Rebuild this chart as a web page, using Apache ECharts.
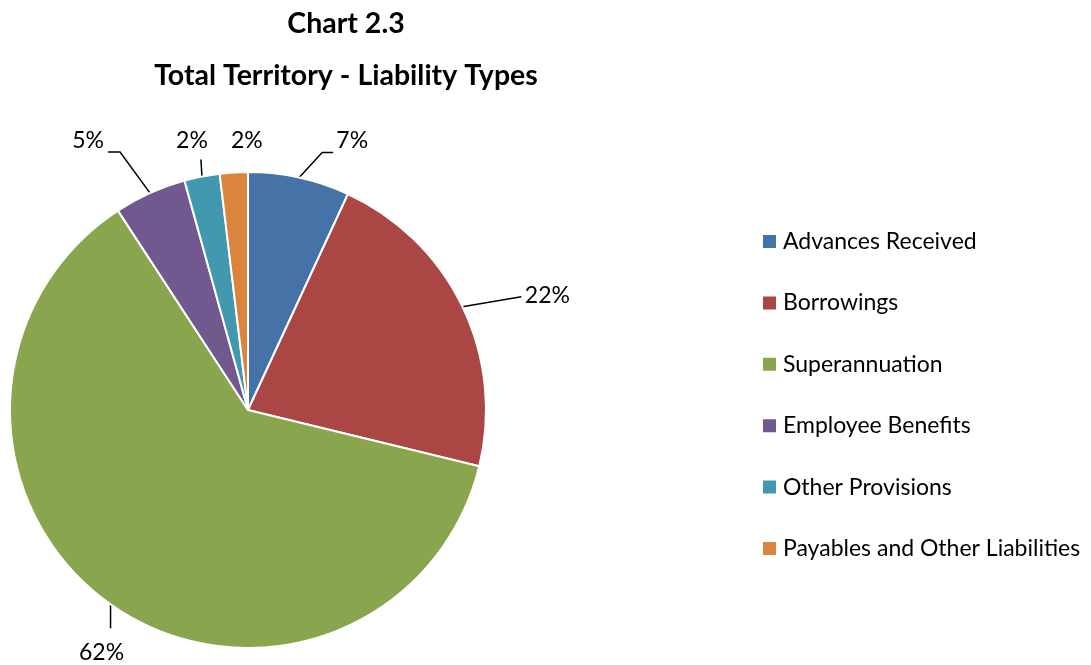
<!DOCTYPE html>
<html>
<head>
<meta charset="utf-8">
<script src="https://cdn.jsdelivr.net/npm/echarts@6/dist/echarts.min.js"></script>
<style>html,body{margin:0;padding:0;background:#fff}#c{width:1091px;height:665px}</style>
</head>
<body>
<div id="c"></div>
<script>
const categories = ['Advances Received','Borrowings','Superannuation','Employee Benefits','Other Provisions','Payables and Other Liabilities'];
const values = [6.9, 21.9, 62.0, 4.9, 2.4, 1.9];
const colors = ['#4572A7','#AA4643','#89A54E','#71588F','#4198AF','#DB843D'];
const titleLines = ['Chart 2.3','Total Territory - Liability Types'];

// label placement relative to the slice's outer-edge anchor (styling only)
const labelOffsets = [[53,-37],[85,-11],[-9,48],[-62,-53],[-10,-36],[13,-32]];
const lineBends = [[[23,-25],[34,-25]],[[59,-10]],[[0,24]],[[-30,-41],[-42,-41]],[[-1,-17]],[]];

const total = values.reduce((a,b)=>a+b,0);
const font = 'Lato, "Open Sans", sans-serif';
const chart = echarts.init(document.getElementById('c'));
chart.setOption({
  animation:false,
  title:[
    {text:titleLines[0],left:341,top:4,textAlign:'center',textStyle:{fontFamily:font,fontSize:28.5,fontWeight:'bold',color:'#000'}},
    {text:titleLines[1],left:341,top:56,textAlign:'center',textStyle:{fontFamily:font,fontSize:28.5,fontWeight:'bold',color:'#000'}}
  ],
  legend:{
    orient:'vertical',left:756,top:225,itemGap:38.4,itemWidth:15,itemHeight:15,icon:'rect',
    textStyle:{fontFamily:font,fontSize:23,lineHeight:23,color:'#000',padding:[0,0,0,1]},
    data:categories
  },
  series:[{
    type:'pie',
    center:[248,410],radius:238,startAngle:90,clockwise:true,
    itemStyle:{borderColor:'#fff',borderWidth:2},
    label:{show:true,position:'outside',fontFamily:font,fontSize:23,color:'#000',
      formatter:p=>Math.round(p.value/total*100)+'%'},
    labelLine:{show:true,length:20,length2:12,lineStyle:{color:'#000',width:1.5}},
    labelLayout:function(p){
      const i=p.dataIndex;
      const a=p.labelLinePoints[0];
      const pts=[[a[0],a[1]]].concat(lineBends[i].map(b=>[a[0]+b[0],a[1]+b[1]]));
      if(pts.length<2) pts.push([a[0],a[1]]);
      return {x:a[0]+labelOffsets[i][0],y:a[1]+labelOffsets[i][1],align:'center',verticalAlign:'middle',labelLinePoints:pts};
    },
    emphasis:{disabled:true},
    data:categories.map((n,i)=>({name:n,value:values[i],itemStyle:{color:colors[i]}}))
  }]
});
</script>
</body>
</html>
